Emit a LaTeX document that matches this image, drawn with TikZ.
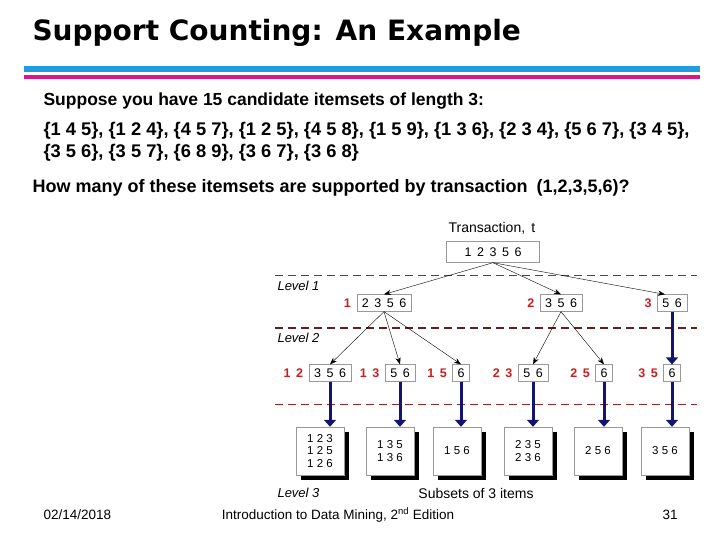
\documentclass[tikz,border=0pt]{standalone}
\usepackage{fontspec}
\setmainfont{Liberation Sans}
\newfontfamily\titlefont{DejaVu Sans}
\usetikzlibrary{arrows.meta}
\definecolor{navy}{RGB}{20,20,110}
\definecolor{dashred}{RGB}{150,40,40}
\definecolor{itemred}{RGB}{200,30,30}
\tikzset{
  itembox/.style={draw=black!40, inner xsep=5pt, inner ysep=4pt, font=\fontsize{12.5}{14}\selectfont},
  prefixlabel/.style={text=itemred, font=\bfseries\fontsize{12.5}{14}\selectfont, anchor=east},
  thin arrow/.style={-{Stealth[length=7pt]}, thin},
  thick arrow/.style={-{Triangle[length=7pt,width=12pt]}, navy, line width=3pt},
  level line/.style={dashred, dash pattern=on 8pt off 5pt, thick},
  level label/.style={font=\itshape\fontsize{13}{15}\selectfont, anchor=west},
  subset/.style={draw=black!40, fill=white, minimum width=48pt, minimum height=48pt, align=center,
    font=\fontsize{11.5}{12.5}\selectfont, inner sep=0pt}
}
\begin{document}
\begin{tikzpicture}[x=1pt, y=-1pt]
  \useasboundingbox (0,0) rectangle (720,540);
  % Title and text
  \node[anchor=west, font=\titlefont\bfseries\fontsize{28}{30}\selectfont] (title) at (29,33) {Support Counting: An Example};
  \fill[cyan!80!blue!90] (24,66) rectangle (700,72);
  \fill[magenta!80!violet] (24,75) rectangle (700,79);
  \node[anchor=west, font=\bfseries\fontsize{17.5}{20}\selectfont] (intro) at (40,101) {Suppose you have 15 candidate itemsets of length 3:};
  \node[anchor=west, font=\bfseries\fontsize{18.3}{20}\selectfont] (list1) at (40,131) {\{1 4 5\}, \{1 2 4\}, \{4 5 7\}, \{1 2 5\}, \{4 5 8\}, \{1 5 9\}, \{1 3 6\}, \{2 3 4\}, \{5 6 7\}, \{3 4 5\},};
  \node[anchor=west, font=\bfseries\fontsize{18.3}{20}\selectfont] (list2) at (40,153) {\{3 5 6\}, \{3 5 7\}, \{6 8 9\}, \{3 6 7\}, \{3 6 8\}};
  \node[anchor=west, font=\bfseries\fontsize{18}{20}\selectfont] (question) at (29,188) {How many of these itemsets are supported by transaction\enspace(1,2,3,5,6)?};

  % Levels
  \draw[level line] (275,275) -- (697,275);
  \draw[level line, dashred!70!black, line width=1.2pt] (275,328) -- (697,328);
  \draw[level line] (275,404) -- (697,404);
  \node[level label] (lev1) at (274,286) {Level 1};
  \node[level label] (lev2) at (274,338) {Level 2};
  \node[level label] (lev3) at (274,493) {Level 3};

  % Transaction
  \node[font=\fontsize{14}{16}\selectfont] (trlabel) at (492,228) {Transaction,\, t};
  \node[itembox, minimum width=93pt, minimum height=21pt] (tr) at (493,252) {1\, 2\, 3\, 5\, 6};

  % Level 1
  \node[itembox] (a) at (384,303) {2\, 3\, 5\, 6};
  \node[prefixlabel] (pa) at (a.west) {1\,};
  \node[itembox] (b) at (561,303) {3\, 5\, 6};
  \node[prefixlabel] (pb) at (b.west) {2\,};
  \node[itembox] (c) at (672,303) {5\, 6};
  \node[prefixlabel] (pc) at (c.west) {3\,};
  \draw[thin arrow] (tr.south) -- (a.north);
  \draw[thin arrow] (tr.south) -- (b.north);
  \draw[thin arrow] (tr.south) -- ([xshift=-7pt]c.north);

  % Level 2
  \node[itembox] (aa) at (330,373) {3\, 5\, 6};
  \node[prefixlabel] (paa) at (aa.west) {1\, 2\,};
  \node[itembox] (ab) at (400,373) {5\, 6};
  \node[prefixlabel] (pab) at (ab.west) {1\, 3\,};
  \node[itembox] (ac) at (461,373) {6};
  \node[prefixlabel] (pac) at (ac.west) {1\, 5\,};
  \node[itembox] (ba) at (533,373) {5\, 6};
  \node[prefixlabel] (pba) at (ba.west) {2\, 3\,};
  \node[itembox] (bb) at (604,373) {6};
  \node[prefixlabel] (pbb) at (bb.west) {2\, 5\,};
  \node[itembox] (ca) at (672,373) {6};
  \node[prefixlabel] (pca) at (ca.west) {3\, 5\,};
  \draw[thin arrow] (a.south) -- (aa.north);
  \draw[thin arrow] (a.south) -- (ab.north);
  \draw[thin arrow] (a.south) -- (ac.north);
  \draw[thin arrow] (b.south) -- (ba.north);
  \draw[thin arrow] (b.south) -- (bb.north);
  \draw[thick arrow] (c.south) -- (ca.north);

  % Level 3
  \foreach \n/\x/\txt/\from in {s1/320/{1 2 3\\1 2 5\\1 2 6}/aa, s2/390/{1 3 5\\1 3 6}/ab,
      s3/457/{1 5 6}/ac, s4/528/{2 3 5\\2 3 6}/ba, s5/598/{2 5 6}/bb, s6/665/{3 5 6}/ca} {
    \fill (\x-19,432) rectangle (\x+29,480);
    \node[subset] (\n) at (\x,451) {\txt};
    \draw[thick arrow] (\from.south) -- (\from.south |- \n.north);
  }
  \node[font=\fontsize{14}{16}\selectfont] (subsets) at (476,493) {Subsets of 3 items};

  % Footer
  \node[anchor=west, font=\fontsize{13.5}{15}\selectfont] (date) at (40,515) {02/14/2018};
  \node[font=\fontsize{13.5}{15}\selectfont] (course) at (338,515) {Introduction to Data Mining, 2\textsuperscript{nd} Edition};
  \node[font=\fontsize{13.5}{15}\selectfont] (page) at (670,515) {31};
\end{tikzpicture}
\end{document}
